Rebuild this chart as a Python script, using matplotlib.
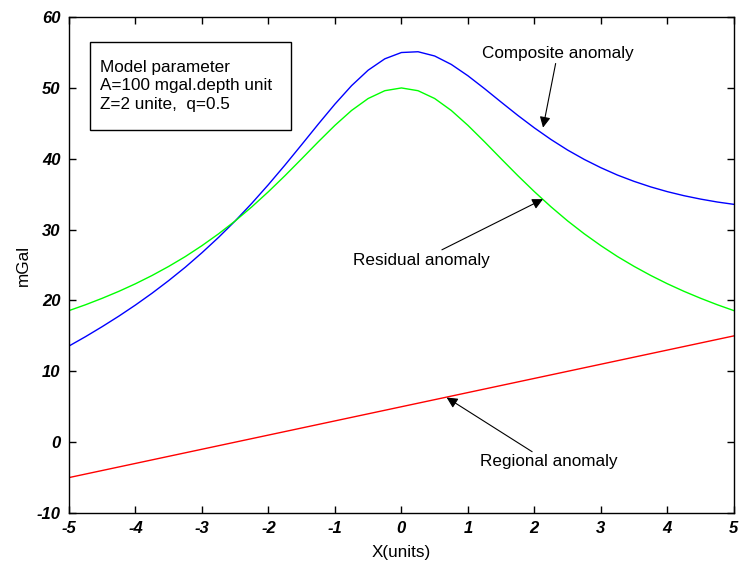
import matplotlib.pyplot as plt
from matplotlib.patches import Rectangle
import numpy as np

# values (x step 0.25)
x = np.arange(-5, 5.01, 0.25)
residual_half = [18.57, 19.40, 20.31, 21.29, 22.36, 23.53, 24.81, 26.20, 27.74, 29.41,
                 31.23, 33.22, 35.36, 37.63, 40.00, 42.40, 44.72, 46.82, 48.51, 49.61, 50.00]
residual = residual_half + residual_half[-2::-1]
composite = [13.57, 14.90, 16.31, 17.79, 19.36, 21.03, 22.81, 24.70, 26.74, 28.91,
             31.23, 33.72, 36.36, 39.13, 42.00, 44.90, 47.72, 50.32, 52.51, 54.11,
             55.00, 55.11, 54.51, 53.32, 51.72, 49.90, 48.00, 46.13, 44.36, 42.72,
             41.23, 39.91, 38.74, 37.70, 36.81, 36.03, 35.36, 34.79, 34.31, 33.90, 33.57]
regional_x = [-5, 5]
regional = [-5, 15]

plt.rcParams['font.family'] = ['Liberation Sans', 'DejaVu Sans']
plt.rcParams['axes.unicode_minus'] = False

fig = plt.figure(figsize=(7.42, 5.70), dpi=100)
ax = fig.add_axes([0.093, 0.1, 0.896, 0.870])

ax.plot(x, composite, color='#0000ff', linewidth=1)
ax.plot(x, residual, color='#00ff00', linewidth=1)
ax.plot(regional_x, regional, color='#ff0000', linewidth=1)

ax.set_xlim(-5, 5)
ax.set_ylim(-10, 60)
ax.set_xticks(range(-5, 6))
ax.set_yticks(range(-10, 61, 10))
ax.tick_params(direction='in', top=True, right=True, length=5, width=1, pad=6)
for lab in ax.get_xticklabels() + ax.get_yticklabels():
    lab.set_fontweight('bold')
    lab.set_fontstyle('italic')
    lab.set_fontsize(12)
for s in ax.spines.values():
    s.set_linewidth(1)

ax.set_xlabel('X(units)', fontsize=12.3, labelpad=6)
ax.set_ylabel('mGal', fontsize=12.3, labelpad=4)

# parameter box
ax.add_patch(Rectangle((-4.684, 44.05), 3.02, 12.42, facecolor='white',
                       edgecolor='black', linewidth=1, zorder=3))
ax.text(-4.534, 50.3, 'Model parameter\nA=100 mgal.depth unit\nZ=2 unite,  q=0.5',
        fontsize=12.3, va='center', ha='left', linespacing=1.3, zorder=4)

arrow = dict(arrowstyle='-|>', mutation_scale=16, lw=0.8, color='black', shrinkA=0, shrinkB=0)
ax.annotate('Composite anomaly', xy=(2.13, 44.4), xytext=(2.35, 54.9),
            fontsize=12.3, ha='center', va='center', arrowprops=arrow)
ax.annotate('Residual anomaly', xy=(2.13, 34.3), xytext=(0.3, 25.7),
            fontsize=12.3, ha='center', va='center', arrowprops=arrow)
ax.annotate('Regional anomaly', xy=(0.68, 6.3), xytext=(2.21, -2.8),
            fontsize=12.3, ha='center', va='center', arrowprops=arrow)

fig.savefig('out.png', dpi=100)
